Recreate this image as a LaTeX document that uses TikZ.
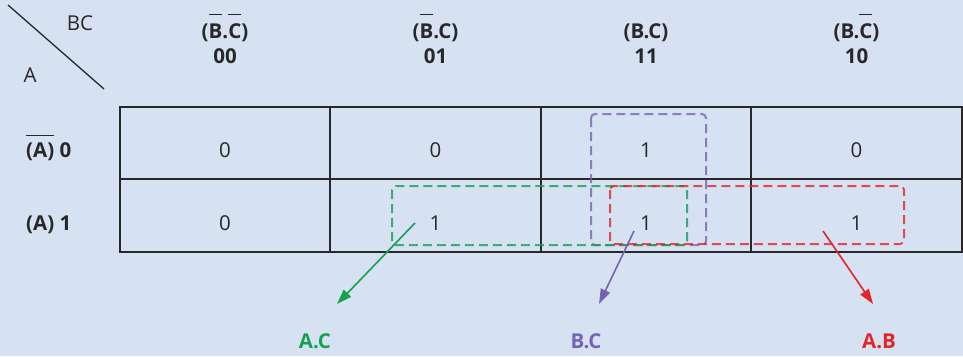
\documentclass[tikz,border=0pt]{standalone}
\usepackage{fontspec}
\setmainfont{Open Sans}
\usetikzlibrary{arrows.meta}

\definecolor{paper}{RGB}{214,226,241}
\definecolor{ink}{RGB}{40,40,42}
\definecolor{grpgreen}{RGB}{22,160,82}
\definecolor{grppurple}{RGB}{118,100,178}
\definecolor{grpred}{RGB}{226,36,43}

\newcommand\mapfont{\fontsize{20.5}{24}\selectfont}
% complemented variable: a bar set above the given text
\newcommand\compl[2][8pt]{\vbox{\hrule height 1.5pt\kern#1\hbox{#2}}}

\begin{document}
\begin{tikzpicture}[x=1pt,y=-1pt,
  txt/.style={text=ink, inner sep=0pt, anchor=base, font=\mapfont},
  hdr/.style={txt, font=\mapfont\bfseries},
  gridline/.style={draw=ink, line width=1.4pt},
  group/.style={dash pattern=on 9pt off 5pt, line width=2pt, rounded corners=4pt, draw opacity=0.8},
  pointer/.style={line width=1.6pt, -{Triangle[length=15pt,width=10pt]}},
  result/.style={inner sep=0pt, anchor=base, font=\mapfont\bfseries}
]
  % page
  \fill[paper] (0,0) rectangle (963,356);
  \useasboundingbox (0,0) rectangle (963,356);

  % corner: split between column and row variables
  \coordinate (dA) at (8,5);
  \coordinate (dB) at (104,89);
  \draw[ink, line width=1.3pt] (dA) -- (dB);
  \node[txt] (bc) at (80,30) {BC};
  \node[txt] (a) at (30,82) {A};

  % column headers
  \node[hdr] (h0) at (225,38) {(\compl{B}.\compl{C})};
  \node[hdr] (h1) at (435.5,38) {(\compl{B}.C)};
  \node[hdr] (h2) at (646,38) {(B.C)};
  \node[hdr] (h3) at (856.5,38) {(B.\compl{C})};
  \node[hdr] (k0) at (225,63) {00};
  \node[hdr] (k1) at (435.5,63) {01};
  \node[hdr] (k2) at (646,63) {11};
  \node[hdr] (k3) at (856.5,63) {10};

  % row headers
  \node[hdr, anchor=base west] (r0) at (26,157) {\compl[6pt]{(A)} 0};
  \node[hdr, anchor=base west] (r1) at (26,230) {(A) 1};

  % map grid
  \draw[gridline] (120,107) rectangle (962,252);
  \draw[gridline] (120,179) -- (962,179);
  \draw[gridline] (330,107) -- (330,252);
  \draw[gridline] (541,107) -- (541,252);
  \draw[gridline] (751,107) -- (751,252);

  % cell values
  \node[txt] (c00) at (225,157) {0};
  \node[txt] (c01) at (435.5,157) {0};
  \node[txt] (c02) at (646,157) {1};
  \node[txt] (c03) at (856.5,157) {0};
  \node[txt] (c10) at (225,230) {0};
  \node[txt] (c11) at (435.5,230) {1};
  \node[txt] (c12) at (646,230) {1};
  \node[txt] (c13) at (856.5,230) {1};

  % groupings
  \draw[group, grppurple] (591,114) rectangle (706,245);
  \draw[group, grpgreen] (392,186) rectangle (687,245);
  \draw[group, grpred] (610,186) rectangle (904,244);

  % product terms
  \node[result, text=grpgreen] (tAC) at (315,348) {A.C};
  \node[result, text=grppurple] (tBC) at (586,348) {B.C};
  \node[result, text=grpred] (tAB) at (879,348) {A.B};

  \coordinate (gS) at (415,223);
  \coordinate (gE) at (337,304);
  \coordinate (pS) at (634,231);
  \coordinate (pE) at (599,304);
  \coordinate (rS) at (823,231);
  \coordinate (rE) at (873,304);
  \draw[pointer, grpgreen] (gS) -- (gE);
  \draw[pointer, grppurple] (pS) -- (pE);
  \draw[pointer, grpred] (rS) -- (rE);
\end{tikzpicture}
\end{document}
